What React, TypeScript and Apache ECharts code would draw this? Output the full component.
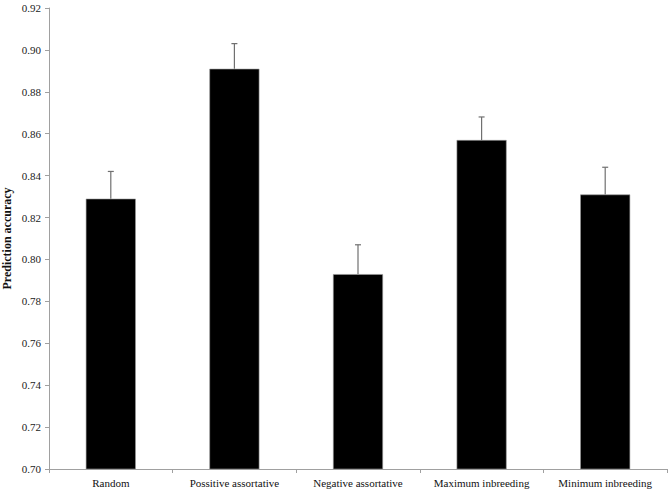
import React, { useEffect, useRef } from "react";
import * as echarts from "echarts";

const categories = [
  "Random",
  "Possitive assortative",
  "Negative assortative",
  "Maximum inbreeding",
  "Minimum inbreeding",
];
const accuracy = [0.829, 0.891, 0.793, 0.857, 0.831];
const errorUpper = [0.842, 0.903, 0.807, 0.868, 0.844];
const yTicks = { min: 0.7, max: 0.92, interval: 0.02 };

const FONT = "Liberation Serif";

export default function App() {
  const ref = useRef<HTMLDivElement>(null);
  useEffect(() => {
    if (!ref.current) return;
    const chart = echarts.init(ref.current, null, { renderer: "svg" });
    chart.setOption({
      animation: false,
      backgroundColor: "#ffffff",
      textStyle: { fontFamily: FONT },
      grid: { left: 49, right: 5, top: 8, bottom: 20, containLabel: false, outerBoundsMode: "none" },
      xAxis: {
        type: "category",
        data: categories,
        axisLine: { lineStyle: { color: "#a0a0a0", width: 1 } },
        axisTick: { show: true, alignWithLabel: false, length: 4, lineStyle: { color: "#a0a0a0" } },
        axisLabel: { color: "#111", fontFamily: FONT, fontSize: 11, margin: 8, interval: 0 },
        splitLine: { show: false },
      },
      yAxis: {
        type: "value",
        min: yTicks.min,
        max: yTicks.max,
        interval: yTicks.interval,
        name: "Prediction accuracy",
        nameLocation: "middle",
        nameGap: 36,
        nameMoveOverlap: false,
        nameTextStyle: { color: "#111", fontFamily: FONT, fontSize: 12, fontWeight: "bold" },
        axisLine: { show: true, lineStyle: { color: "#a0a0a0", width: 1 } },
        axisTick: { show: true, length: 4, lineStyle: { color: "#a0a0a0" } },
        axisLabel: {
          color: "#222",
          fontFamily: FONT,
          fontSize: 11,
          margin: 8,
          formatter: (v: number) => v.toFixed(2),
        },
        splitLine: { show: false },
      },
      series: [
        {
          type: "bar",
          data: accuracy,
          barWidth: 50,
          itemStyle: { color: "#000000", borderColor: "#9a9a9a", borderWidth: 0.6 },
        },
        {
          type: "custom",
          data: categories.map((_, i) => [i, accuracy[i], errorUpper[i]]),
          z: 10,
          renderItem: (params: any, api: any) => {
            const x = api.value(0);
            const base = api.coord([x, api.value(1)]);
            const top = api.coord([x, api.value(2)]);
            const style = { stroke: "#707070", lineWidth: 1.2 };
            return {
              type: "group",
              children: [
                { type: "line", shape: { x1: base[0], y1: base[1], x2: top[0], y2: top[1] }, style },
                { type: "line", shape: { x1: top[0] - 3, y1: top[1], x2: top[0] + 3, y2: top[1] }, style },
              ],
            };
          },
        },
      ],
    });
    return () => chart.dispose();
  }, []);
  return <div ref={ref} style={{ width: 672, height: 489, position: "absolute", left: 0, top: 0 }} />;
}
